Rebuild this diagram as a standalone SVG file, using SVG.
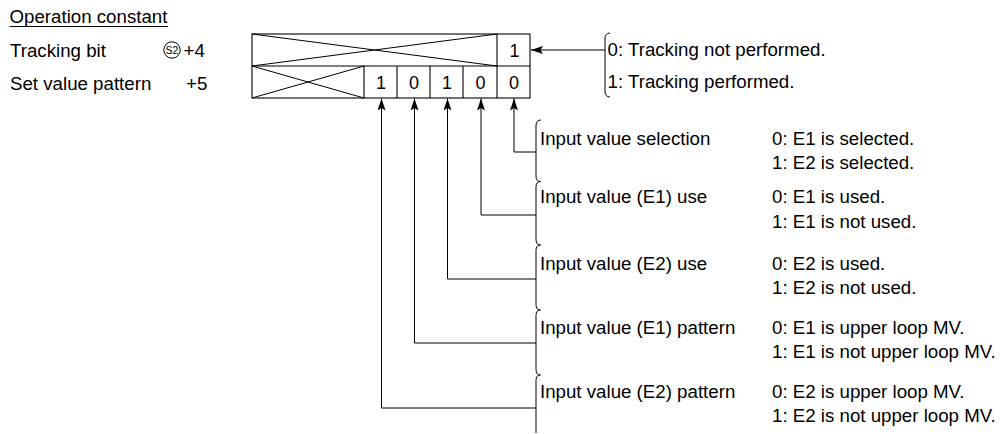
<svg xmlns="http://www.w3.org/2000/svg" width="1006" height="434" viewBox="0 0 1006 434">
<style>
text{font-family:"Liberation Sans",Arial,sans-serif;font-size:18.7px;fill:#000}
.d{text-anchor:middle;font-size:18px}
.ln{fill:none;stroke:#000;stroke-width:1.1}
.br{fill:none;stroke:#000;stroke-width:1}
</style>
<defs>
<marker id="ah" viewBox="0 0 12 8" refX="12" refY="4" markerWidth="12" markerHeight="8" markerUnits="userSpaceOnUse" orient="auto">
<path d="M0,0 L12,4 L0,8 L2.5,4 Z" fill="#000"/>
</marker>
</defs>
<rect width="1006" height="434" fill="#fff"/>

<g id="heading">
<text x="9.5" y="23">Operation constant</text>
<line x1="9.5" y1="26.5" x2="168" y2="26.5" stroke="#000" stroke-width="1"/>
</g>
<g id="row-labels">
<text x="10" y="57">Tracking bit</text>
<circle cx="172" cy="50" r="8.2" fill="none" stroke="#000" stroke-width="1"/>
<text x="172" y="53.8" style="font-size:10.5px;text-anchor:middle">S2</text>
<text x="183.5" y="57">+4</text>
<text x="10" y="89.5">Set value pattern</text>
<text x="186" y="89.5">+5</text>
</g>

<g id="register">
<rect class="ln" x="252" y="34" width="278" height="64"/>
<line class="ln" x1="252" y1="66" x2="530" y2="66"/>
<line class="ln" x1="497" y1="34" x2="497" y2="98"/>
<line class="ln" x1="364" y1="66" x2="364" y2="98"/>
<line class="ln" x1="397" y1="66" x2="397" y2="98"/>
<line class="ln" x1="430" y1="66" x2="430" y2="98"/>
<line class="ln" x1="463" y1="66" x2="463" y2="98"/>
<line class="br" x1="252" y1="34" x2="497" y2="66"/>
<line class="br" x1="252" y1="66" x2="497" y2="34"/>
<line class="br" x1="252" y1="66" x2="364" y2="98"/>
<line class="br" x1="252" y1="98" x2="364" y2="66"/>
<text class="d" x="514.5" y="56.5">1</text>
<text class="d" x="381" y="89">1</text>
<text class="d" x="414" y="89">0</text>
<text class="d" x="447" y="89">1</text>
<text class="d" x="480.5" y="89">0</text>
<text class="d" x="514" y="89">0</text>
</g>

<g id="tracking-note">
<path class="br" d="M610,33 Q605,33 605,39 V91 Q605,97 610,97"/>
<text x="607.5" y="55.5">0: Tracking not performed.</text>
<text x="607.5" y="88">1: Tracking performed.</text>
</g>

<g id="sel">
<path class="br" d="M541,120 Q536,120 536,126 V176 Q536,181.5 540.5,181.5"/>
<text x="540" y="144.5">Input value selection</text>
<text x="772" y="144.5">0: E1 is selected.</text>
<text x="772" y="168.5">1: E2 is selected.</text>
</g>
<g id="e1use">
<path class="br" d="M540.5,181.5 Q536,181.5 536,187 V239.5 Q536,245 540.5,245"/>
<text x="540" y="203">Input value (E1) use</text>
<text x="772" y="203">0: E1 is used.</text>
<text x="772" y="227.5">1: E1 is not used.</text>
</g>
<g id="e2use">
<path class="br" d="M540.5,245 Q536,245 536,250.5 V304.5 Q536,310 540.5,310"/>
<text x="540" y="269.5">Input value (E2) use</text>
<text x="772" y="269.5">0: E2 is used.</text>
<text x="772" y="293.5">1: E2 is not used.</text>
</g>
<g id="e1pat">
<path class="br" d="M540.5,310 Q536,310 536,315.5 V369.5 Q536,375 540.5,375"/>
<text x="540" y="333.5">Input value (E1) pattern</text>
<text x="772" y="333.5">0: E1 is upper loop MV.</text>
<text x="772" y="357.5">1: E1 is not upper loop MV.</text>
</g>
<g id="e2pat">
<path class="br" d="M540.5,375 Q536,375 536,380.5 V433"/>
<text x="540" y="398">Input value (E2) pattern</text>
<text x="772" y="398">0: E2 is upper loop MV.</text>
<text x="772" y="422">1: E2 is not upper loop MV.</text>
</g>

<g id="connectors">
<polyline class="br" points="605,50 531,50" marker-end="url(#ah)"/>
<polyline class="br" points="536,152 514,152 514,98.5" marker-end="url(#ah)"/>
<polyline class="br" points="536,215 481,215 481,98.5" marker-end="url(#ah)"/>
<polyline class="br" points="536,279 447.5,279 447.5,98.5" marker-end="url(#ah)"/>
<polyline class="br" points="536,343 414.5,343 414.5,98.5" marker-end="url(#ah)"/>
<polyline class="br" points="536,408 381.5,408 381.5,98.5" marker-end="url(#ah)"/>
</g>
</svg>
